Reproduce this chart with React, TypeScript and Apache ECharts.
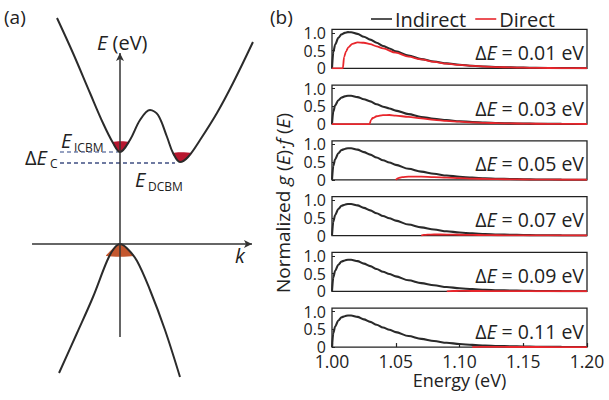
import React, { useEffect, useRef } from "react";
import * as echarts from "echarts";

// ---------- Panel (b) data ----------
const energyTicks = [1.0, 1.05, 1.1, 1.15, 1.2];
const deltaE = ["0.01", "0.03", "0.05", "0.07", "0.09", "0.11"];
const energy = [1.0, 1.001, 1.0025, 1.005, 1.0075, 1.01, 1.0125, 1.015, 1.02, 1.025, 1.03, 1.035, 1.04, 1.045, 1.05, 1.06, 1.07, 1.08, 1.09, 1.1, 1.11, 1.12, 1.13, 1.14, 1.15, 1.16, 1.18, 1.2];
const indirect1 = [0, 0.45, 0.67, 0.86, 0.96, 1.0, 1.02, 1.015, 0.97, 0.89, 0.81, 0.72, 0.63, 0.56, 0.48, 0.36, 0.26, 0.19, 0.14, 0.1, 0.07, 0.05, 0.036, 0.025, 0.018, 0.012, 0.005, 0.002];
const indirect2 = [0, 0.35, 0.53, 0.67, 0.75, 0.78, 0.8, 0.8, 0.76, 0.7, 0.64, 0.56, 0.49, 0.44, 0.38, 0.28, 0.2, 0.15, 0.11, 0.08, 0.055, 0.04, 0.028, 0.02, 0.014, 0.009, 0.004, 0.002];
const indirect3 = [0, 0.39, 0.58, 0.75, 0.84, 0.87, 0.89, 0.89, 0.85, 0.78, 0.71, 0.63, 0.55, 0.49, 0.42, 0.31, 0.23, 0.17, 0.12, 0.087, 0.061, 0.044, 0.031, 0.022, 0.016, 0.01, 0.004, 0.002];
const indirectSets = [indirect1, indirect2, indirect3, indirect3, indirect3, indirect3];

const direct1 = [[1.0, 0], [1.0085, 0], [1.0095, 0.32], [1.011, 0.48], [1.013, 0.6], [1.016, 0.69], [1.02, 0.73], [1.025, 0.72], [1.03, 0.68], [1.035, 0.62], [1.04, 0.56], [1.05, 0.44], [1.06, 0.33], [1.07, 0.25], [1.08, 0.18], [1.09, 0.13], [1.1, 0.095], [1.11, 0.068], [1.12, 0.049], [1.13, 0.035], [1.14, 0.024], [1.15, 0.017], [1.16, 0.012], [1.18, 0.005], [1.2, 0.002]];
const direct2 = [[1.0, 0], [1.0295, 0], [1.0305, 0.11], [1.032, 0.17], [1.035, 0.22], [1.04, 0.25], [1.045, 0.255], [1.05, 0.24], [1.06, 0.2], [1.07, 0.16], [1.08, 0.12], [1.09, 0.09], [1.1, 0.066], [1.11, 0.048], [1.12, 0.034], [1.13, 0.025], [1.14, 0.018], [1.15, 0.012], [1.16, 0.008], [1.18, 0.003], [1.2, 0.001]];
const direct3 = [[1.05, 0], [1.052, 0.05], [1.055, 0.075], [1.06, 0.088], [1.065, 0.09], [1.07, 0.087], [1.08, 0.075], [1.09, 0.06], [1.1, 0.046], [1.11, 0.034], [1.12, 0.025], [1.13, 0.018], [1.14, 0.012], [1.15, 0.008], [1.16, 0.005], [1.18, 0.002], [1.2, 0.001]];
const direct4 = [[1.07, 0], [1.072, 0.018], [1.075, 0.026], [1.08, 0.03], [1.09, 0.028], [1.1, 0.023], [1.11, 0.018], [1.12, 0.013], [1.13, 0.009], [1.14, 0.006], [1.15, 0.004], [1.16, 0.003], [1.2, 0.001]];
const direct5 = [[1.09, 0], [1.095, 0.008], [1.1, 0.01], [1.11, 0.009], [1.12, 0.007], [1.13, 0.005], [1.14, 0.004], [1.15, 0.003], [1.16, 0.002], [1.2, 0.001]];
const direct6 = [[1.11, 0], [1.115, 0.003], [1.12, 0.004], [1.13, 0.003], [1.14, 0.002], [1.15, 0.0015], [1.16, 0.001], [1.2, 0]];
const directSets = [direct1, direct2, direct3, direct4, direct5, direct6];

// ---------- Panel (a) schematic band diagram (k, E in arbitrary units) ----------
const cbK = [-0.525, -0.392, -0.25, -0.142, -0.058, 0, 0.083, 0.167, 0.25, 0.317, 0.392, 0.442, 0.5, 0.567, 0.667, 0.808, 0.942, 1.108];
const cbE = [2.26, 1.91, 1.51, 1.21, 1.01, 0.92, 1.04, 1.24, 1.34, 1.29, 1.07, 0.91, 0.82, 0.87, 1.04, 1.31, 1.61, 2.02];
const vbK = [-0.508, -0.358, -0.225, -0.108, -0.05, 0, 0.06, 0.142, 0.25, 0.375, 0.5];
const vbE = [-1.29, -0.89, -0.53, -0.17, -0.045, 0, -0.045, -0.17, -0.46, -0.86, -1.33];
const eICBM = 0.92;
const eDCBM = 0.81;
const fillICBM = [[-0.062, 1.02], [-0.04, 0.97], [-0.02, 0.935], [0, 0.92], [0.02, 0.93], [0.045, 0.97], [0.075, 1.02]];
const fillDCBM = [[0.44, 0.91], [0.47, 0.85], [0.5, 0.82], [0.54, 0.835], [0.58, 0.88], [0.6, 0.91]];
const fillVB = [[-0.115, -0.12], [-0.09, -0.08], [-0.06, -0.045], [-0.03, -0.015], [0, 0], [0.03, -0.015], [0.06, -0.045], [0.09, -0.08], [0.115, -0.12]];

const FONT = "Open Sans";
const INK = "#222";
const RED = "#e8262c";

export default function App() {
  const ref = useRef<HTMLDivElement>(null);
  useEffect(() => {
    if (!ref.current) return;
    const chart = echarts.init(ref.current, null, { renderer: "svg" });

    const top0 = 29.3;
    const step = 55.75;
    const gh = 39;
    const grids: any[] = [];
    const xAxes: any[] = [];
    const yAxes: any[] = [];
    const series: any[] = [];
    const graphics: any[] = [];

    const richN = (s: number) => ({ fontSize: s, fontFamily: FONT, fill: INK, color: INK });
    const richI = (s: number) => ({ fontSize: s, fontFamily: FONT, fontStyle: "italic", fill: INK, color: INK });

    for (let i = 0; i < 6; i++) {
      const top = top0 + i * step;
      const last = i === 5;
      grids.push({ left: 332, width: 255, top, height: gh, show: true, borderColor: INK, borderWidth: 1.3, backgroundColor: "transparent" });
      xAxes.push({
        type: "value", gridIndex: i, min: energyTicks[0], max: energyTicks[energyTicks.length - 1], interval: 0.05,
        axisLine: { show: false }, splitLine: { show: false },
        axisTick: { show: last, inside: true, length: 4, lineStyle: { color: INK, width: 1.2 } },
        axisLabel: { show: last, fontSize: 17.5, fontFamily: FONT, color: INK, margin: 5, formatter: (v: number) => v.toFixed(2) },
        name: last ? "Energy (eV)" : "", nameLocation: "middle", nameGap: 21,
        nameTextStyle: { fontSize: 18, fontFamily: FONT, color: INK },
      });
      yAxes.push({
        type: "value", gridIndex: i, min: 0, max: 1.1, interval: 0.5,
        axisLine: { show: false }, splitLine: { show: false },
        axisTick: { show: true, inside: true, length: 3, lineStyle: { color: INK, width: 1 } },
        axisLabel: {
          fontSize: 16, fontFamily: FONT, color: INK, margin: 6, showMaxLabel: false,
          formatter: (v: number) => (Math.abs(v - 1.1) < 1e-6 ? "" : v === 0 ? "0" : v.toFixed(1)),
        },
      });
      series.push({
        type: "line", name: "Indirect", xAxisIndex: i, yAxisIndex: i, symbol: "none", smooth: 0.3, smoothMonotone: "x",
        data: energy.map((e, j) => [e, indirectSets[i][j]]),
        lineStyle: { color: "#2a2a2a", width: 2.1 }, itemStyle: { color: "#2a2a2a" }, z: 3,
      });
      series.push({
        type: "line", name: "Direct", xAxisIndex: i, yAxisIndex: i, symbol: "none", smooth: 0.3, smoothMonotone: "x",
        data: directSets[i],
        lineStyle: { color: RED, width: 1.8 }, itemStyle: { color: RED }, z: 4,
      });
      graphics.push({
        type: "text", x: 584, y: top + 23,
        style: {
          text: "{n|Δ}{i|E}{n| = " + deltaE[i] + " eV}", align: "right", verticalAlign: "middle",
          rich: { n: richN(19.5), i: richI(19.5) },
        },
      });
    }

    // panel (a) grid
    grids.push({ left: 0, top: 0, width: 260, height: 400 });
    xAxes.push({ type: "value", gridIndex: 6, min: -1, max: 1.1667, show: false });
    yAxes.push({ type: "value", gridIndex: 6, min: -1.56, max: 2.44, show: false });

    const fillSeries = (pts: number[][], color: string) => ({
      type: "custom", xAxisIndex: 6, yAxisIndex: 6, data: pts, silent: true, z: 1,
      renderItem: (params: any, api: any) =>
        params.dataIndex === 0
          ? { type: "polygon", shape: { points: pts.map((p) => api.coord(p)), smooth: 0.3 }, style: { fill: color } }
          : null,
    });
    series.push(fillSeries(fillICBM, "#b8172f"));
    series.push(fillSeries(fillDCBM, "#b8172f"));
    series.push(fillSeries(fillVB, "#c4582f"));

    series.push({
      type: "line", name: "cb", xAxisIndex: 6, yAxisIndex: 6, symbol: "none", smooth: 0.35,
      data: cbK.map((k, j) => [k, cbE[j]]), lineStyle: { color: "#2b2b2b", width: 2 }, z: 3,
      markLine: {
        silent: true, symbol: ["none", "arrow"], symbolSize: [6, 8], label: { show: false },
        lineStyle: { type: "solid", color: "#333", width: 1.5 },
        data: [
          [{ coord: [0, -0.93] }, { coord: [0, 1.91] }],
          [{ coord: [-0.733, 0] }, { coord: [1.1, 0] }],
        ],
      },
    });
    series.push({
      type: "line", name: "vb", xAxisIndex: 6, yAxisIndex: 6, symbol: "none", smooth: 0.35,
      data: vbK.map((k, j) => [k, vbE[j]]), lineStyle: { color: "#2b2b2b", width: 2 }, z: 3,
    });
    series.push({
      type: "line", name: "icbm", xAxisIndex: 6, yAxisIndex: 6, symbol: "none",
      data: [[-0.5, eICBM], [-0.017, eICBM]], lineStyle: { color: "#7383ad", width: 1.5, type: [4, 3] }, z: 2,
    });
    series.push({
      type: "line", name: "dcbm", xAxisIndex: 6, yAxisIndex: 6, symbol: "none",
      data: [[-0.5, eDCBM], [0.458, eDCBM]], lineStyle: { color: "#3f4f82", width: 1.5, type: [4, 3] }, z: 2,
    });

    const txt = (x: number, y: number, text: string, size: number, italic = false, align = "left") => ({
      type: "text", x, y,
      style: { text, fontSize: size, fontFamily: FONT, fontStyle: italic ? "italic" : "normal", fill: INK, align, verticalAlign: "middle" },
    });
    graphics.push(txt(4, 17, "(a)", 19));
    graphics.push(txt(270, 17, "(b)", 19));
    graphics.push({
      type: "text", x: 97, y: 42,
      style: { text: "{i|E}{n| (eV)}", verticalAlign: "middle", rich: { n: richN(20), i: richI(20) } },
    });
    graphics.push(txt(61, 140, "E", 20, true));
    graphics.push(txt(74, 147, "ICBM", 12));
    graphics.push({
      type: "text", x: 25, y: 157,
      style: { text: "{n|Δ}{i|E}", verticalAlign: "middle", rich: { n: richN(20), i: richI(20) } },
    });
    graphics.push(txt(50, 163, "C", 12));
    graphics.push(txt(135, 179, "E", 20, true));
    graphics.push(txt(148, 186, "DCBM", 12));
    graphics.push(txt(235, 255, "k", 20, true));
    graphics.push({
      type: "text", x: 283, y: 203, rotation: Math.PI / 2,
      style: {
        text: "{n|Normalized }{i|g}{n| (}{i|E}{n|)·}{i|f}{n| (}{i|E}{n|)}", align: "center", verticalAlign: "middle",
        rich: { n: richN(19), i: richI(19) },
      },
    });

    chart.setOption({
      animation: false,
      backgroundColor: "#fff",
      textStyle: { fontFamily: FONT },
      legend: {
        data: ["Indirect", "Direct"], left: 366, top: 4, icon: "rect", itemWidth: 21, itemHeight: 1.6, itemGap: 9,
        textStyle: { fontSize: 20, fontFamily: FONT, color: INK, padding: [0, 0, 0, -2] },
      },
      grid: grids,
      xAxis: xAxes,
      yAxis: yAxes,
      series,
      graphic: { elements: graphics },
    });
    return () => chart.dispose();
  }, []);
  return <div ref={ref} style={{ position: "fixed", left: 0, top: 0, width: 609, height: 400 }} />;
}
